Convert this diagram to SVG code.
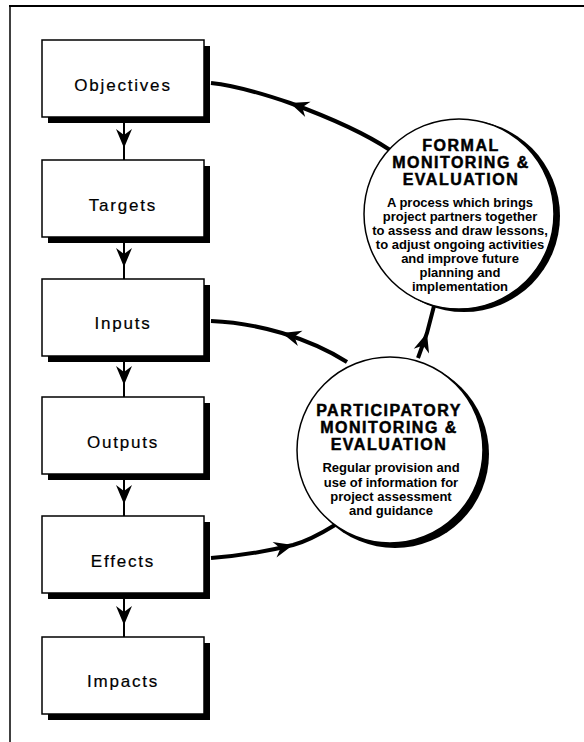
<svg xmlns="http://www.w3.org/2000/svg" width="584" height="742" viewBox="0 0 584 742">
<style>
.frame{stroke:#000;fill:none}
.box{fill:#fff;stroke:#000;stroke-width:1.5}
.shadow{fill:#000}
.lbl{font-family:"Liberation Sans",Arial,sans-serif;font-size:17px;letter-spacing:1.8px;text-anchor:middle;fill:#000;stroke:#000;stroke-width:0.2}
.head{font-family:"Liberation Sans",Arial,sans-serif;font-weight:bold;font-size:16px;letter-spacing:1.5px;text-anchor:middle;fill:#000;stroke:#000;stroke-width:0.5}
.body{font-family:"Liberation Sans",Arial,sans-serif;font-weight:bold;font-size:13px;text-anchor:middle;fill:#000}
.circ{fill:#fff;stroke:#000;stroke-width:1.5}
.conn{fill:none;stroke:#000;stroke-width:4;marker-mid:url(#barb)}
.down{fill:none;stroke:#000;stroke-width:2;marker-mid:url(#barb)}
</style>
<defs>
<marker id="barb" markerUnits="userSpaceOnUse" viewBox="-21 -10 24 20" markerWidth="24" markerHeight="20" refX="0" refY="0" orient="auto">
<path d="M0,0 L-19,-8 L-13,0 L-19,8 Z" fill="#000"/>
</marker>
</defs>
<rect width="584" height="742" fill="#fff"/>
<g id="frame">
<line class="frame" x1="9" y1="6" x2="584" y2="6" stroke-width="2"/>
<line class="frame" x1="10" y1="6" x2="10" y2="742" stroke-width="1.5"/>
</g>
<g id="connectors">
<path class="down" d="M124,123 L124,148 L124,160"/>
<path class="down" d="M124,243 L124,267 L124,279"/>
<path class="down" d="M124,362 L124,385 L124,397"/>
<path class="down" d="M124,480 L124,504 L124,516"/>
<path class="down" d="M124,599 L124,625 L124,637"/>
<path class="conn" d="M390,150 C360,130 320,114 290,103 C255,91 230,85 211,83"/>
<path class="conn" d="M347,362 C325,348 305,340 282,333 C258,326 235,322 211,321"/>
<path class="conn" d="M211,558 C240,556 268,551 293,545 C308,541 322,533 335,525"/>
<path class="conn" d="M418,358 L427,333 L434,306"/>
</g>
<g id="objectives">
<rect class="shadow" x="48" y="46" width="162" height="77"/>
<rect class="box" x="42" y="40" width="162" height="77"/>
<text class="lbl" x="123" y="91">Objectives</text>
</g>
<g id="targets">
<rect class="shadow" x="48" y="166" width="162" height="77"/>
<rect class="box" x="42" y="160" width="162" height="77"/>
<text class="lbl" x="123" y="211">Targets</text>
</g>
<g id="inputs">
<rect class="shadow" x="48" y="285" width="162" height="77"/>
<rect class="box" x="42" y="279" width="162" height="77"/>
<text class="lbl" x="123" y="329">Inputs</text>
</g>
<g id="outputs">
<rect class="shadow" x="48" y="403" width="162" height="77"/>
<rect class="box" x="42" y="397" width="162" height="77"/>
<text class="lbl" x="123" y="448">Outputs</text>
</g>
<g id="effects">
<rect class="shadow" x="48" y="522" width="162" height="77"/>
<rect class="box" x="42" y="516" width="162" height="77"/>
<text class="lbl" x="123" y="567">Effects</text>
</g>
<g id="impacts">
<rect class="shadow" x="48" y="643" width="162" height="77"/>
<rect class="box" x="42" y="637" width="162" height="77"/>
<text class="lbl" x="123" y="687">Impacts</text>
</g>
<g id="formal">
<circle cx="464" cy="216" r="96" fill="#000"/>
<circle class="circ" cx="459" cy="214" r="95"/>
<text class="head" x="461" y="151">FORMAL</text>
<text class="head" x="461" y="168">MONITORING &amp;</text>
<text class="head" x="461" y="185">EVALUATION</text>
<text class="body" x="460" y="207">A process which brings</text>
<text class="body" x="460" y="221">project partners together</text>
<text class="body" x="460" y="235">to assess and draw lessons,</text>
<text class="body" x="460" y="249">to adjust ongoing activities</text>
<text class="body" x="460" y="263">and improve future</text>
<text class="body" x="460" y="277">planning and</text>
<text class="body" x="460" y="291">implementation</text>
</g>
<g id="participatory">
<circle cx="395" cy="454" r="94" fill="#000"/>
<circle class="circ" cx="390" cy="450" r="93"/>
<text class="head" x="389" y="416">PARTICIPATORY</text>
<text class="head" x="389" y="433">MONITORING &amp;</text>
<text class="head" x="389" y="450">EVALUATION</text>
<text class="body" x="391" y="472">Regular provision and</text>
<text class="body" x="391" y="487">use of information for</text>
<text class="body" x="391" y="501">project assessment</text>
<text class="body" x="391" y="515">and guidance</text>
</g>
</svg>
